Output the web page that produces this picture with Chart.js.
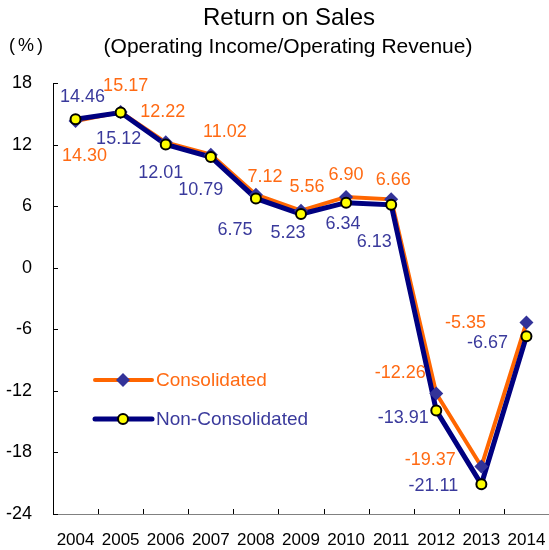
<!DOCTYPE html>
<html>
<head>
<meta charset="utf-8">
<script src="https://cdn.jsdelivr.net/npm/chart.js@4/dist/chart.umd.min.js"></script>
<style>
html, body { margin: 0; padding: 0; background: #fff; }
canvas { display: block; }
</style>
</head>
<body>
<canvas id="rosChart" width="549" height="550"></canvas>
<script>
// データ
const years = ['2004', '2005', '2006', '2007', '2008', '2009', '2010', '2011', '2012', '2013', '2014'];
const consolidated = [14.30, 15.17, 12.22, 11.02, 7.12, 5.56, 6.90, 6.66, -12.26, -19.37, -5.35];
const nonConsolidated = [14.46, 15.12, 12.01, 10.79, 6.75, 5.23, 6.34, 6.13, -13.91, -21.11, -6.67];
const yMin = -24;
const yMax = 18;
const yStep = 6;
const seriesNames = ['Consolidated', 'Non-Consolidated'];
const titleText = 'Return on Sales';
const subtitleText = '(Operating Income/Operating Revenue)';
const unitText = '(%)';

// ラベルの位置ずれ（点からのpx）
const consLabelOffsets = [[9, 35], [5, -26], [-3, -30], [14, -23], [9, -18], [6, -24], [0, -22], [2, -19], [-36, -20], [-51, -6], [-61, 0]];
const nonLabelOffsets = [[7, -22], [-2, 26], [-5, 29], [-10, 33], [-21, 32], [-13, 19], [-3, 21], [-17, 37], [-33, 8], [-48, 2], [-39, 7]];

const FONT = '"Liberation Sans", Arial, sans-serif';
const ORANGE = '#FF6600';
const ORANGE_TEXT = '#FF6A13';
const NAVY = '#000080';
const DIAMOND = '#333399';
const BLUE_TEXT = '#3A3A9C';
const YELLOW = '#FFFF00';

const decorPlugin = {
	id: 'decor',
	afterDraw(chart) {
		const ctx = chart.ctx;
		const area = chart.chartArea;
		const xs = chart.scales.x;
		const ys = chart.scales.y;
		ctx.save();

		// 内向きの目盛り
		ctx.strokeStyle = '#000';
		ctx.lineWidth = 1;
		ctx.beginPath();
		for (let v = yMin; v <= yMax; v += yStep) {
			const y = Math.round(ys.getPixelForValue(v)) + 0.5;
			ctx.moveTo(area.left, y);
			ctx.lineTo(area.left + 5, y);
		}
		const half = (xs.getPixelForValue(1) - xs.getPixelForValue(0)) / 2;
		for (let i = 0; i <= years.length; i++) {
			const x = Math.round(xs.getPixelForValue(i) - half) + 0.5;
			ctx.moveTo(x, area.bottom);
			ctx.lineTo(x, area.bottom - 5);
		}
		ctx.stroke();

		// データラベル
		ctx.font = '18px ' + FONT;
		ctx.textAlign = 'center';
		ctx.textBaseline = 'middle';
		const consMeta = chart.getDatasetMeta(2);
		const nonMeta = chart.getDatasetMeta(3);
		consolidated.forEach((v, i) => {
			const p = consMeta.data[i];
			ctx.fillStyle = ORANGE_TEXT;
			ctx.fillText(v.toFixed(2), p.x + consLabelOffsets[i][0], p.y + consLabelOffsets[i][1]);
		});
		nonConsolidated.forEach((v, i) => {
			const p = nonMeta.data[i];
			ctx.fillStyle = BLUE_TEXT;
			ctx.fillText(v.toFixed(2), p.x + nonLabelOffsets[i][0], p.y + nonLabelOffsets[i][1]);
		});

		// 凡例
		const lx0 = 95, lx1 = 152, lmid = 123;
		const ly = [380, 419];
		ctx.lineCap = 'round';
		ctx.strokeStyle = ORANGE;
		ctx.lineWidth = 4;
		ctx.beginPath();
		ctx.moveTo(lx0, ly[0]);
		ctx.lineTo(lx1, ly[0]);
		ctx.stroke();
		ctx.fillStyle = DIAMOND;
		ctx.beginPath();
		ctx.moveTo(lmid, ly[0] - 7);
		ctx.lineTo(lmid + 7, ly[0]);
		ctx.lineTo(lmid, ly[0] + 7);
		ctx.lineTo(lmid - 7, ly[0]);
		ctx.closePath();
		ctx.fill();

		ctx.strokeStyle = NAVY;
		ctx.lineWidth = 5;
		ctx.beginPath();
		ctx.moveTo(lx0, ly[1]);
		ctx.lineTo(lx1, ly[1]);
		ctx.stroke();
		ctx.fillStyle = YELLOW;
		ctx.strokeStyle = '#000';
		ctx.lineWidth = 2;
		ctx.beginPath();
		ctx.arc(lmid, ly[1], 5, 0, Math.PI * 2);
		ctx.fill();
		ctx.stroke();

		ctx.font = '19px ' + FONT;
		ctx.textAlign = 'left';
		ctx.fillStyle = ORANGE_TEXT;
		ctx.fillText(seriesNames[0], 156, ly[0] + 1);
		ctx.fillStyle = BLUE_TEXT;
		ctx.fillText(seriesNames[1], 156, ly[1] + 1);

		// タイトル
		ctx.fillStyle = '#000';
		ctx.textAlign = 'center';
		ctx.font = '24px ' + FONT;
		ctx.fillText(titleText, 289, 18);
		ctx.font = '21px ' + FONT;
		ctx.fillText(subtitleText, 288, 47);
		ctx.textAlign = 'left';
		ctx.font = '18px ' + FONT;
		ctx.letterSpacing = '3px';
		ctx.fillText(unitText, 9, 46);
		ctx.restore();
	}
};

const ctx = document.getElementById('rosChart').getContext('2d');
new Chart(ctx, {
	type: 'line',
	data: {
		labels: years,
		datasets: [
			{ label: seriesNames[0], data: consolidated, borderColor: ORANGE, borderWidth: 4, pointRadius: 0, tension: 0, fill: false, order: 4 },
			{ label: seriesNames[1], data: nonConsolidated, borderColor: NAVY, borderWidth: 5, pointRadius: 0, tension: 0, fill: false, order: 3 },
			{ label: seriesNames[0], data: consolidated, showLine: false, pointStyle: 'rectRot', pointRadius: 7, pointBackgroundColor: DIAMOND, pointBorderWidth: 0, order: 2 },
			{ label: seriesNames[1], data: nonConsolidated, showLine: false, pointStyle: 'circle', pointRadius: 5, pointBackgroundColor: YELLOW, pointBorderColor: '#000', pointBorderWidth: 2, order: 1 }
		]
	},
	options: {
		responsive: false,
		animation: false,
		layout: { autoPadding: false, padding: { top: 83, left: 0, right: 0, bottom: 0 } },
		plugins: {
			legend: { display: false },
			tooltip: { enabled: false }
		},
		scales: {
			x: {
				offset: true,
				grid: { display: false, drawTicks: false },
				border: { display: true, color: '#808080', width: 1 },
				ticks: { color: '#000', font: { family: FONT, size: 17 }, padding: 16, maxRotation: 0, autoSkip: false },
				afterFit(scale) {
					scale.height = 36;
					scale.paddingLeft = 0;
					scale.paddingRight = 0;
				}
			},
			y: {
				min: yMin,
				max: yMax,
				grid: { display: false, drawTicks: false },
				border: { display: true, color: '#000', width: 1 },
				ticks: { stepSize: yStep, color: '#000', font: { family: FONT, size: 18 }, padding: 21 },
				afterFit(scale) {
					scale.width = 53;
					scale.paddingTop = 0;
					scale.paddingBottom = 0;
				}
			}
		}
	},
	plugins: [decorPlugin]
});
</script>
</body>
</html>
